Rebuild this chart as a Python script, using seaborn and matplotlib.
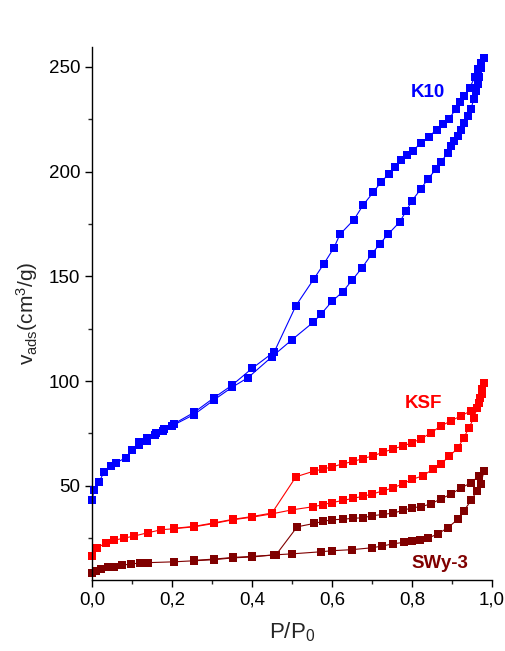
import matplotlib
matplotlib.use("Agg")
import matplotlib.pyplot as plt
import seaborn as sns
import pandas as pd
from matplotlib.ticker import MultipleLocator

# K10 isotherm
k10_ads_p = [0.0, 0.005, 0.018, 0.03, 0.048, 0.06, 0.085, 0.10, 0.118, 0.138, 0.158, 0.178, 0.20,
             0.255, 0.305, 0.35, 0.39, 0.45, 0.50, 0.553, 0.573, 0.60, 0.627, 0.65, 0.675, 0.70,
             0.72, 0.74, 0.77, 0.785, 0.80, 0.823, 0.84, 0.86, 0.873, 0.89, 0.898, 0.905, 0.915,
             0.923, 0.93, 0.94, 0.948, 0.955, 0.96, 0.965, 0.968, 0.973, 0.98]
k10_ads_v = [43, 48, 52, 56.7, 59.5, 61, 63.4, 67, 69.6, 71.5, 74, 76, 78.6,
             84, 91, 97, 101.6, 111.6, 119.7, 128, 132, 138, 142.6, 148, 154, 160.7,
             165.5, 170, 176, 181, 186, 191.8, 196.5, 201, 204.6, 209, 212, 214.6, 217,
             220, 223, 226.6, 230, 234.7, 238.5, 242, 245, 249.5, 254]
k10_des_p = [0.98, 0.973, 0.965, 0.957, 0.945, 0.93, 0.92, 0.91, 0.893, 0.878, 0.862, 0.842,
             0.823, 0.803, 0.788, 0.773, 0.757, 0.743, 0.723, 0.703, 0.678, 0.655, 0.62, 0.605,
             0.58, 0.555, 0.51, 0.456, 0.40, 0.35, 0.305, 0.255, 0.205, 0.18, 0.16, 0.138, 0.118]
k10_des_v = [254, 252, 249, 245, 240, 236, 233, 230, 225, 222.8, 220, 216.6,
             213.7, 210, 208, 205.6, 202, 199, 195, 190, 184, 177, 170, 163.6,
             156, 148.8, 136, 114, 106, 98, 92, 85, 79.6, 77, 75, 73, 71]

# KSF isotherm
ksf_ads_p = [0.0, 0.013, 0.035, 0.055, 0.08, 0.105, 0.14, 0.173, 0.205, 0.255, 0.305, 0.353,
             0.40, 0.45, 0.50, 0.553, 0.578, 0.60, 0.628, 0.653, 0.678, 0.70, 0.728, 0.753,
             0.778, 0.80, 0.828, 0.853, 0.873, 0.893, 0.915, 0.93, 0.943, 0.955, 0.963, 0.97,
             0.975, 0.98]
ksf_ads_v = [16.6, 20.4, 22.8, 24, 25, 26, 27.6, 29, 29.5, 30.4, 32, 33.8,
             35, 36.6, 38.5, 40, 41, 42, 43, 44, 45, 46, 47.6, 49,
             51, 53, 54.8, 58, 60.5, 64, 68, 73, 77.7, 82.5, 87, 92,
             96, 99]
ksf_des_p = [0.98, 0.975, 0.968, 0.948, 0.923, 0.898, 0.873, 0.848, 0.823, 0.80, 0.778, 0.753,
             0.728, 0.703, 0.678, 0.653, 0.628, 0.60, 0.578, 0.555, 0.51, 0.45, 0.40, 0.353,
             0.305, 0.255, 0.205]
ksf_des_v = [99, 94, 89.6, 85.8, 83.4, 81, 78.6, 75.3, 72.4, 70.5, 69, 67.6,
             66, 64.3, 63, 61.6, 60.5, 59, 58, 57, 54.3, 37, 35.3, 34,
             32.3, 30.6, 29.7]

# SWy-3 isotherm
swy_ads_p = [0.0, 0.01, 0.023, 0.04, 0.055, 0.075, 0.098, 0.12, 0.14, 0.205, 0.255, 0.305,
             0.353, 0.40, 0.455, 0.50, 0.573, 0.60, 0.65, 0.70, 0.725, 0.753, 0.78, 0.80,
             0.82, 0.84, 0.865, 0.89, 0.915, 0.93, 0.948, 0.963, 0.973, 0.98]
swy_ads_v = [8.5, 9.5, 10.4, 11, 11.4, 12, 12.8, 13, 13.3, 13.7, 14.2, 14.7,
             15.6, 16, 17, 17.5, 18.5, 19, 19.5, 20.4, 21.2, 22.3, 23, 23.7,
             24.3, 25, 27, 30, 34, 38, 43, 47.6, 51, 57]
swy_des_p = [0.98, 0.968, 0.948, 0.923, 0.898, 0.873, 0.848, 0.823, 0.80, 0.778, 0.753, 0.728,
             0.70, 0.678, 0.653, 0.628, 0.60, 0.578, 0.555, 0.513, 0.46, 0.40, 0.353, 0.305,
             0.255]
swy_des_v = [57, 54.8, 51.4, 49, 46, 43.8, 41.4, 40, 39.5, 38.2, 37, 36.3,
             35.7, 34.7, 34.5, 34, 33.8, 33, 32, 30.4, 17, 16.3, 15.8, 15,
             14.4]

x_ticks = [0.0, 0.2, 0.4, 0.6, 0.8, 1.0]
x_tick_labels = ["0,0", "0,2", "0,4", "0,6", "0,8", "1,0"]
y_ticks = [50, 100, 150, 200, 250]

sns.set_style("ticks")
plt.rcParams['font.family'] = ['Liberation Sans', 'DejaVu Sans']
plt.rcParams['mathtext.default'] = 'regular'

fig = plt.figure(figsize=(5.06, 6.51), dpi=100)
ax = fig.add_axes([0.182, 0.109, 0.79, 0.819])

series = [
    (k10_ads_p, k10_ads_v, "#0000ff"),
    (k10_des_p, k10_des_v, "#0000ff"),
    (ksf_ads_p, ksf_ads_v, "#ff0000"),
    (ksf_des_p, ksf_des_v, "#ff0000"),
    (swy_ads_p, swy_ads_v, "#800000"),
    (swy_des_p, swy_des_v, "#800000"),
]
for p, v, c in series:
    df = pd.DataFrame({"p": p, "v": v})
    sns.lineplot(data=df, x="p", y="v", sort=False, estimator=None, color=c,
                 marker="s", markersize=5.5, markeredgewidth=0, linewidth=0.8,
                 ax=ax, clip_on=False)

ax.text(0.84, 237.6, "K10", color="#0000ff", fontsize=13.5, fontweight="bold", ha="center", va="center")
ax.text(0.83, 89.4, "KSF", color="#ff0000", fontsize=13.5, fontweight="bold", ha="center", va="center")
ax.text(0.87, 13, "SWy-3", color="#800000", fontsize=13.5, fontweight="bold", ha="center", va="center")

ax.set_xlim(0, 1.0)
ax.set_ylim(5, 259.5)
ax.set_xticks(x_ticks)
ax.set_xticklabels(x_tick_labels)
ax.set_yticks(y_ticks)
ax.xaxis.set_minor_locator(MultipleLocator(0.1))
ax.yaxis.set_minor_locator(MultipleLocator(25))
ax.tick_params(which="major", direction="out", length=5, width=1, labelsize=13.5, colors="black")
ax.tick_params(which="minor", direction="out", length=3, width=1)
for s in ["top", "right"]:
    ax.spines[s].set_visible(False)
for s in ["left", "bottom"]:
    ax.spines[s].set_linewidth(1)
    ax.spines[s].set_color("black")

ax.set_xlabel("P/P$_0$", fontsize=16, labelpad=8)
ax.set_ylabel("v$_{ads}$(cm$^3$/g)", fontsize=15, labelpad=6)

fig.savefig("out.png", dpi=100)
